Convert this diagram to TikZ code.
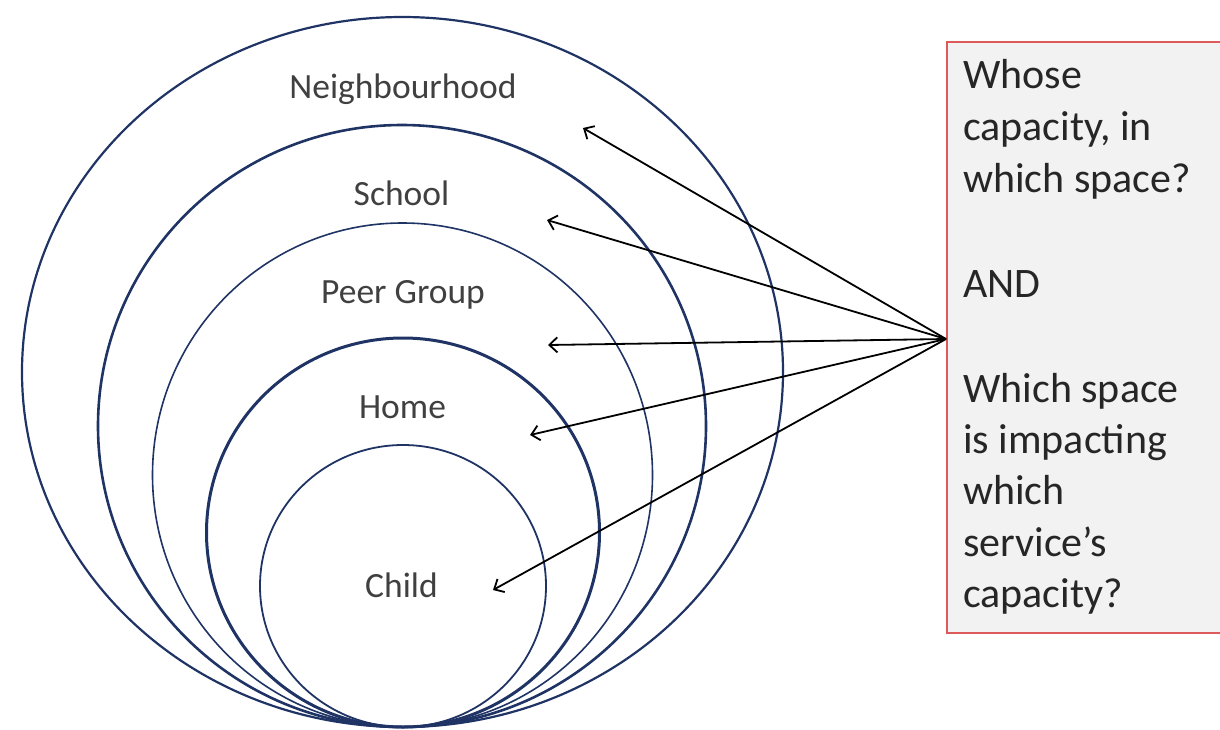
\documentclass[tikz,border=0pt]{standalone}
\usepackage{fontspec}
\setmainfont{Carlito}
\usetikzlibrary{arrows.meta}
\definecolor{ringblue}{RGB}{31,52,100}
\definecolor{labelgray}{RGB}{64,64,64}
\definecolor{boxtext}{RGB}{38,38,38}
\definecolor{boxfill}{RGB}{242,242,242}
\definecolor{boxred}{RGB}{222,90,90}
\tikzset{
  ring/.style={draw=ringblue},
  ringlabel/.style={anchor=base, inner sep=0pt, text=labelgray, font=\fontsize{35.5}{42}\selectfont},
  qbox/.style={draw=boxred, line width=1.8pt, fill=boxfill},
  qtext/.style={anchor=base west, inner sep=0pt, text=boxtext, font=\fontsize{42}{52}\selectfont},
  pointer/.style={draw=black, line width=1.8pt, -{Straight Barb[length=8pt,width=15pt,line width=1.8pt]}}
}
\begin{document}
\begin{tikzpicture}[x=1pt,y=-1pt]
\useasboundingbox (0,0) rectangle (1220,729);
% rings
\draw[ring, line width=2.2pt] (402.5,372) ellipse [x radius=380.5pt, y radius=355pt];
\draw[ring, line width=2.6pt] (402,426) ellipse [x radius=304pt, y radius=301pt];
\draw[ring, line width=1.6pt] (402.5,475) ellipse [x radius=250pt, y radius=252pt];
\draw[ring, line width=3.0pt] (403,532.5) ellipse [x radius=196.5pt, y radius=194.5pt];
\draw[ring, line width=1.8pt] (403,586) ellipse [x radius=143pt, y radius=141pt];
% labels
\node[ringlabel] (nb) at (403,98) {Neighbourhood};
\node[ringlabel] (sc) at (401.5,205) {School};
\node[ringlabel] (pg) at (403,303) {Peer Group};
\node[ringlabel] (hm) at (402.5,418) {Home};
\node[ringlabel] (ch) at (401.5,597) {Child};
% question box
\draw[qbox] (947,42) rectangle (1240,633);
\node[qtext] (q1) at (963,88) {Whose};
\node[qtext] (q2) at (963,140) {capacity, in};
\node[qtext] (q3) at (963,192) {which space?};
\node[qtext] (q4) at (963,297) {AND};
\node[qtext] (q5) at (963,402) {Which space};
\node[qtext] (q6) at (963,453) {is impacting};
\node[qtext] (q7) at (963,504) {which};
\node[qtext] (q8) at (963,556) {service’s};
\node[qtext] (q9) at (963,607) {capacity?};
% arrows
\coordinate (src) at (946,339);
\coordinate (tnb) at (583,128);
\coordinate (tsc) at (547,220);
\coordinate (tpg) at (548,345);
\coordinate (thm) at (530,435);
\coordinate (tch) at (493,590);
\draw[pointer] (src) -- (tnb);
\draw[pointer] (src) -- (tsc);
\draw[pointer] (src) -- (tpg);
\draw[pointer] (src) -- (thm);
\draw[pointer] (src) -- (tch);
\end{tikzpicture}
\end{document}
